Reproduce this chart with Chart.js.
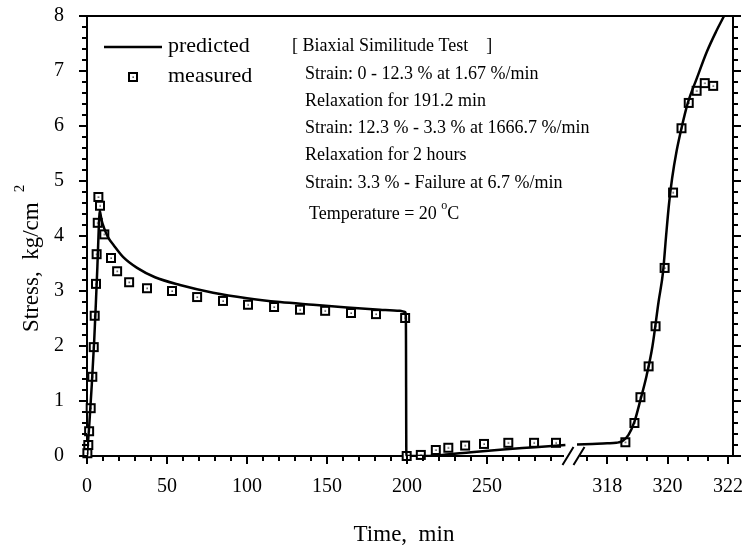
<!DOCTYPE html>
<html><head><meta charset="utf-8">
<script src="https://cdn.jsdelivr.net/npm/chart.js@4.4.1/dist/chart.umd.min.js"></script>
<style>html,body{margin:0;padding:0;background:#fff}</style>
</head><body>
<canvas id="c" width="748" height="550"></canvas>
<script>
// ---------- data ----------
const predLeftT  = [0, 1.5, 3, 4.5, 5.5, 6.5, 7.3, 7.9, 9, 11, 13.1, 17, 22.5, 31.3, 42.5, 58.1, 78.8, 100, 120.6, 141.3, 162.5, 183.1, 195.6, 198.8, 199.3, 199.6, 210, 222, 240, 260, 280, 299];
const predLeftV  = [0, 0.6, 1.3, 2.1, 2.75, 3.45, 4.1, 4.47, 4.3, 4.12, 3.98, 3.82, 3.62, 3.42, 3.25, 3.11, 2.97, 2.87, 2.8, 2.75, 2.7, 2.66, 2.64, 2.62, 2.5, 0, 0, 0.02, 0.07, 0.12, 0.16, 0.2];
const predRightT = [317.0, 317.5, 318.0, 318.3, 318.5, 318.7, 318.9, 319.1, 319.3, 319.5, 319.7, 319.85, 319.95, 320.05, 320.15, 320.3, 320.46, 320.67, 320.97, 321.3, 321.6, 321.87];
const predRightV = [0.21, 0.22, 0.23, 0.24, 0.27, 0.38, 0.62, 1.02, 1.45, 2.0, 2.8, 3.35, 4.0, 4.6, 5.05, 5.55, 5.96, 6.42, 6.87, 7.35, 7.71, 8.0];
const measLeftT  = [0.2, 0.8, 1.3, 2.3, 3.3, 4.2, 4.8, 5.6, 6.0, 6.7, 7.1, 8.1, 10.8, 15.0, 18.8, 26.3, 37.5, 53.1, 68.8, 85.0, 100.6, 116.9, 133.1, 148.8, 165.0, 180.6, 198.8, 199.8, 208.6, 218.0, 225.8, 236.3, 248.1, 263.3, 279.4, 293.1];
const measLeftV  = [0.05, 0.2, 0.45, 0.87, 1.44, 1.98, 2.55, 3.13, 3.67, 4.24, 4.71, 4.55, 4.03, 3.60, 3.36, 3.16, 3.05, 3.00, 2.89, 2.82, 2.75, 2.71, 2.66, 2.64, 2.60, 2.58, 2.51, 0.0, 0.02, 0.11, 0.15, 0.19, 0.22, 0.24, 0.24, 0.24];
const measRightT = [318.6, 318.9, 319.1, 319.37, 319.6, 319.9, 320.18, 320.46, 320.7, 320.96, 321.23, 321.51];
const measRightV = [0.25, 0.6, 1.07, 1.63, 2.36, 3.42, 4.79, 5.96, 6.42, 6.64, 6.78, 6.73];

const xLeftTicks  = [0, 50, 100, 150, 200, 250];
const xRightTicks = [318, 320, 322];
const yTicks      = [0, 1, 2, 3, 4, 5, 6, 7, 8];

const legendLabels = ['predicted', 'measured'];
const infoLines = ['[ Biaxial Similitude Test    ]', 'Strain: 0 - 12.3 % at 1.67 %/min', 'Relaxation for 191.2 min',
  'Strain: 12.3 % - 3.3 % at 1666.7 %/min', 'Relaxation for 2 hours', 'Strain: 3.3 % - Failure at 6.7 %/min'];
const tempText = ['Temperature = 20 ', 'o', 'C'];
const xTitle = 'Time,  min';
const yTitle = ['Stress,  kg/cm', '2'];

// ---------- style ----------
const FAM = '"Liberation Serif", "Times New Roman", serif';
const pts = (T, V) => T.map((t, i) => ({x: t, y: V[i]}));

const marker = document.createElement('canvas');
marker.width = 12; marker.height = 12;
(function(){
  const m = marker.getContext('2d');
  m.fillStyle = '#fff'; m.fillRect(1, 1, 10, 10);
  m.strokeStyle = '#000'; m.lineWidth = 2; m.strokeRect(2, 2, 8, 8);
  m.fillStyle = '#000'; m.fillRect(5.5, 5.5, 1.3, 1.3);
})();

const lineDS = (data, xid) => ({data, xAxisID: xid, yAxisID: 'y', showLine: true, borderColor: '#000',
  borderWidth: 2.5, pointRadius: 0, cubicInterpolationMode: 'monotone', fill: false});
const ptDS = (data, xid) => ({data, xAxisID: xid, yAxisID: 'y', showLine: false, pointStyle: marker,
  pointRadius: 5, clip: false});

const tickFont = {family: FAM, size: 20};

const xFit = s => { s.height = 94; s.paddingLeft = 0; s.paddingRight = 0; };

const decor = {
  id: 'decor',
  afterDraw(chart) {
    const c = chart.ctx, a = chart.chartArea, S = chart.scales;
    c.save();
    c.strokeStyle = '#000'; c.fillStyle = '#000'; c.lineWidth = 2;
    // top frame
    c.beginPath(); c.moveTo(a.left - 1, a.top); c.lineTo(a.right + 1, a.top); c.stroke();
    // tick marks
    c.beginPath();
    const hTick = (sc, v, len) => { const p = Math.round(sc.getPixelForValue(v)); c.moveTo(p, a.bottom); c.lineTo(p, a.bottom + len); };
    for (let v = 0; v <= 290.1; v += 10) hTick(S.x, v, (v % 50 === 0) ? 8 : 5);
    for (let k = -2; k <= 6; k++) { const v = 318 + k * 2 / 3; if (v > 317 && v < 322.2) hTick(S.x2, v, (k % 3 === 0) ? 8 : 5); }
    for (let k = 0; k <= 40; k++) {
      const p = Math.round(S.y.getPixelForValue(k * 0.2));
      const len = (k % 5 === 0) ? 8 : 5;
      c.moveTo(a.left, p); c.lineTo(a.left - len, p);
      c.moveTo(a.right, p); c.lineTo(a.right + len, p);
    }
    c.stroke();
    // axis break
    const g1 = S.x.getPixelForValue(300) - 3, g2 = S.x2.getPixelForValue(317) + 3;
    c.fillStyle = '#fff'; c.fillRect(g1, a.bottom - 2, g2 - g1, 4);
    c.beginPath();
    [g1 + 4, g1 + 15].forEach(cx => { c.moveTo(cx - 5.5, a.bottom + 9); c.lineTo(cx + 5.5, a.bottom - 9); });
    c.stroke();
    c.fillStyle = '#000';
    // legend
    c.lineWidth = 2.5;
    c.beginPath(); c.moveTo(104, 47); c.lineTo(162, 47); c.stroke();
    c.drawImage(marker, 133 - 6, 77 - 6);
    c.font = '22px ' + FAM; c.textBaseline = 'middle'; c.textAlign = 'left';
    c.fillText(legendLabels[0], 168, 46);
    c.fillText(legendLabels[1], 168, 76);
    // info text
    c.font = '18px ' + FAM;
    c.fillText(infoLines[0], 292, 46);
    const ys = [74, 101, 128, 155, 183];
    for (let i = 1; i < infoLines.length; i++) c.fillText(infoLines[i], 305, ys[i - 1]);
    let tx = 309, ty = 214;
    c.fillText(tempText[0], tx, ty); tx += c.measureText(tempText[0]).width;
    c.font = '12px ' + FAM; c.fillText(tempText[1], tx, ty - 8); tx += c.measureText(tempText[1]).width;
    c.font = '18px ' + FAM; c.fillText(tempText[2], tx, ty);
    // axis titles
    c.font = '23px ' + FAM; c.textAlign = 'center'; c.textBaseline = 'alphabetic';
    c.fillText(xTitle, 404, 541);
    c.save();
    c.translate(38, 332); c.rotate(-Math.PI / 2);
    c.textAlign = 'left';
    c.font = '23px ' + FAM; c.fillText(yTitle[0], 0, 0);
    const w = c.measureText(yTitle[0]).width;
    c.font = '15px ' + FAM; c.fillText(yTitle[1], w + 10, -14);
    c.restore();
    c.restore();
  }
};

new Chart(document.getElementById('c'), {
  type: 'scatter',
  data: {datasets: [
    lineDS(pts(predLeftT, predLeftV), 'x'),
    lineDS(pts(predRightT, predRightV), 'x2'),
    ptDS(pts(measLeftT, measLeftV), 'x'),
    ptDS(pts(measRightT, measRightV), 'x2')
  ]},
  options: {
    responsive: false, animation: false, devicePixelRatio: 1,
    layout: {padding: {top: 16, left: 0, right: 0, bottom: 0}},
    plugins: {legend: {display: false}, tooltip: {enabled: false}},
    scales: {
      x: {type: 'linear', position: 'bottom', stack: 'time', stackWeight: 485, min: 0, max: 303.125,
        afterBuildTicks: s => { s.ticks = xLeftTicks.map(v => ({value: v})); },
        ticks: {font: tickFont, color: '#000', padding: 11, autoSkip: false, maxRotation: 0, callback: v => String(v)},
        grid: {display: false}, border: {display: true, color: '#000', width: 2}, afterFit: xFit},
      x2: {type: 'linear', position: 'bottom', stack: 'time', stackWeight: 161, min: 316.8333, max: 322.1667,
        afterBuildTicks: s => { s.ticks = xRightTicks.map(v => ({value: v})); },
        ticks: {font: tickFont, color: '#000', padding: 11, autoSkip: false, maxRotation: 0, callback: v => String(v)},
        grid: {display: false}, border: {display: true, color: '#000', width: 2}, afterFit: xFit},
      y: {type: 'linear', position: 'left', min: 0, max: 8,
        afterBuildTicks: s => { s.ticks = yTicks.map(v => ({value: v})); },
        ticks: {font: tickFont, color: '#000', padding: 15, autoSkip: false, callback: v => String(v)},
        grid: {display: false}, border: {display: true, color: '#000', width: 2},
        afterFit: s => { s.width = 87; s.paddingTop = 0; s.paddingBottom = 0; }},
      yR: {type: 'linear', position: 'right', min: 0, max: 8,
        ticks: {display: false}, grid: {display: false}, border: {display: true, color: '#000', width: 2},
        afterFit: s => { s.width = 15; s.paddingTop = 0; s.paddingBottom = 0; }}
    }
  },
  plugins: [decor]
});
</script>
</body></html>
